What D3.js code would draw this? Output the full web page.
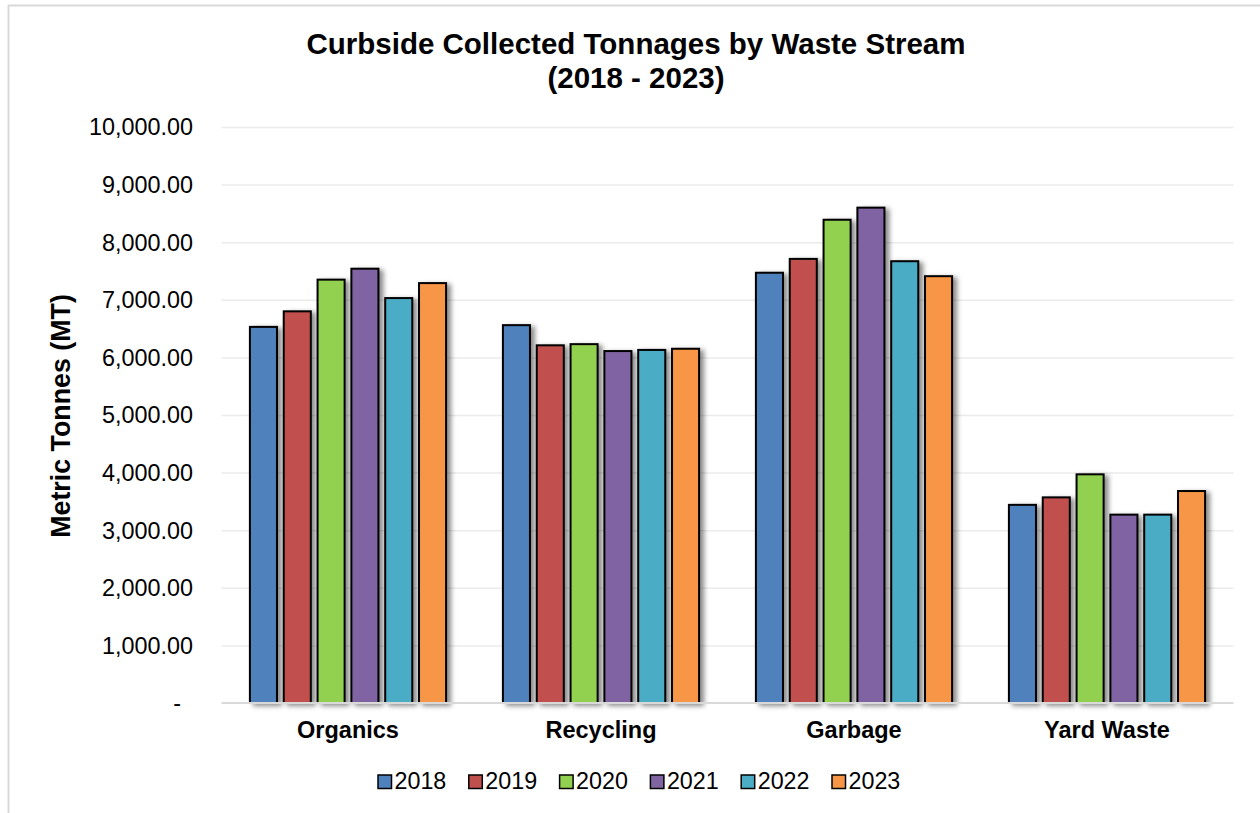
<!DOCTYPE html>
<html>
  <head>
    <meta charset="utf-8">
    <title>Curbside Collected Tonnages</title>
    <script src="https://d3js.org/d3.v7.min.js"></script>
    <style>
      body { margin: 0; background: #fff; }
      svg { display: block; font-family: "Liberation Sans", Arial, sans-serif; }
      .grid line { stroke: #ebebeb; stroke-width: 1.5; }
      .grid .domain { display: none; }
    </style>
  </head>
  <body>
    <svg id="chart" width="1260" height="813"></svg>
    <script>
      // chart data
      var categories = ["Organics", "Recycling", "Garbage", "Yard Waste"];
      var years = ["2018", "2019", "2020", "2021", "2022", "2023"];
      var v2018 = [6530, 6560, 7470, 3440];
      var v2019 = [6800, 6210, 7710, 3570];
      var v2020 = [7350, 6230, 8390, 3970];
      var v2021 = [7540, 6110, 8600, 3270];
      var v2022 = [7030, 6130, 7670, 3270];
      var v2023 = [7290, 6150, 7410, 3680];
      var yTicks = [0, 1000, 2000, 3000, 4000, 5000, 6000, 7000, 8000, 9000, 10000];
      var colours = ["#4f81bd", "#c0504d", "#92d050", "#8064a2", "#4bacc6", "#f79646"];

      var series = [v2018, v2019, v2020, v2021, v2022, v2023];
      var rows = categories.map(function(c, i) {
        return { category: c, values: years.map(function(yr, j) { return { year: yr, value: series[j][i] }; }) };
      });

      var margin = { top: 127, left: 221.5, right: 26.5, bottom: 110 };
      var width = 1260, height = 813;
      var chart = d3.select("#chart");

      // defs: drop shadow for bars
      var filter = chart.append("defs").append("filter")
        .attr("id", "shadow").attr("x", "-20%").attr("y", "-20%").attr("width", "160%").attr("height", "140%");
      filter.append("feDropShadow")
        .attr("dx", 4).attr("dy", 2).attr("stdDeviation", 2.5)
        .attr("flood-color", "#000").attr("flood-opacity", 0.45);

      // outer border (top and left only)
      chart.append("line").attr("x1", 8).attr("x2", width).attr("y1", 5.5).attr("y2", 5.5)
        .attr("stroke", "#d9d9d9").attr("stroke-width", 2);
      chart.append("line").attr("x1", 8.5).attr("x2", 8.5).attr("y1", 5).attr("y2", height)
        .attr("stroke", "#d9d9d9").attr("stroke-width", 2);

      // scales
      var x0 = d3.scaleBand().domain(categories).range([margin.left, width - margin.right]);
      var x1 = d3.scaleBand().domain(years).range([0, x0.bandwidth()])
        .paddingInner(0.2).paddingOuter(0.84);
      var y = d3.scaleLinear().domain([0, 10000]).range([height - margin.bottom, margin.top]);

      // gridlines
      chart.append("g").attr("class", "grid")
        .attr("transform", "translate(" + margin.left + ",0)")
        .call(d3.axisLeft(y).tickValues(yTicks.slice(1)).tickSize(-(width - margin.left - margin.right)).tickFormat(""));

      // y tick labels
      var fmt = d3.format(",.2f");
      chart.append("g").selectAll("text").data(yTicks).join("text")
        .attr("x", function(d) { return d === 0 ? 181 : 193; })
        .attr("y", function(d) { return y(d); })
        .attr("dy", "0.36em")
        .attr("text-anchor", "end")
        .attr("font-size", 23.4)
        .attr("fill", "#000")
        .text(function(d) { return d === 0 ? "-" : fmt(d); });

      // bars
      var groups = chart.append("g").selectAll("g").data(rows).join("g")
        .attr("transform", function(d) { return "translate(" + x0(d.category) + ",0)"; });
      groups.selectAll("rect").data(function(d) { return d.values; }).join("rect")
        .attr("x", function(d) { return x1(d.year); })
        .attr("y", function(d) { return y(d.value); })
        .attr("width", x1.bandwidth())
        .attr("height", function(d) { return y(0) - y(d.value); })
        .attr("fill", function(d, i) { return colours[i]; })
        .attr("stroke", "#000")
        .attr("stroke-width", 2)
        .attr("filter", "url(#shadow)");

      // baseline
      chart.append("line")
        .attr("x1", margin.left).attr("x2", width - margin.right)
        .attr("y1", y(0)).attr("y2", y(0))
        .attr("stroke", "#d9d9d9").attr("stroke-width", 2);

      // category labels
      chart.append("g").selectAll("text").data(categories).join("text")
        .attr("x", function(d) { return x0(d) + x0.bandwidth() / 2; })
        .attr("y", 738)
        .attr("text-anchor", "middle")
        .attr("font-size", 23.5)
        .attr("font-weight", "bold")
        .text(function(d) { return d; });

      // title
      var title = chart.append("text")
        .attr("x", 636).attr("text-anchor", "middle")
        .attr("font-size", 29.5).attr("font-weight", "bold");
      title.append("tspan").attr("x", 636).attr("y", 54).text("Curbside Collected Tonnages by Waste Stream");
      title.append("tspan").attr("x", 636).attr("y", 88).text("(2018 - 2023)");

      // y axis title
      chart.append("text")
        .attr("transform", "translate(70," + 416 + ") rotate(-90)")
        .attr("text-anchor", "middle")
        .attr("font-size", 26.8)
        .attr("font-weight", "bold")
        .text("Metric Tonnes (MT)");

      // legend
      var legend = chart.append("g").selectAll("g").data(years).join("g")
        .attr("transform", function(d, i) { return "translate(" + (378 + i * 90.8) + ",775)"; });
      legend.append("rect")
        .attr("width", 13.5).attr("height", 13.5)
        .attr("fill", function(d, i) { return colours[i]; })
        .attr("stroke", "#000").attr("stroke-width", 1.5);
      legend.append("text")
        .attr("x", 16.5).attr("y", 13.5)
        .attr("font-size", 23.3)
        .text(function(d) { return d; });
    </script>
  </body>
</html>
